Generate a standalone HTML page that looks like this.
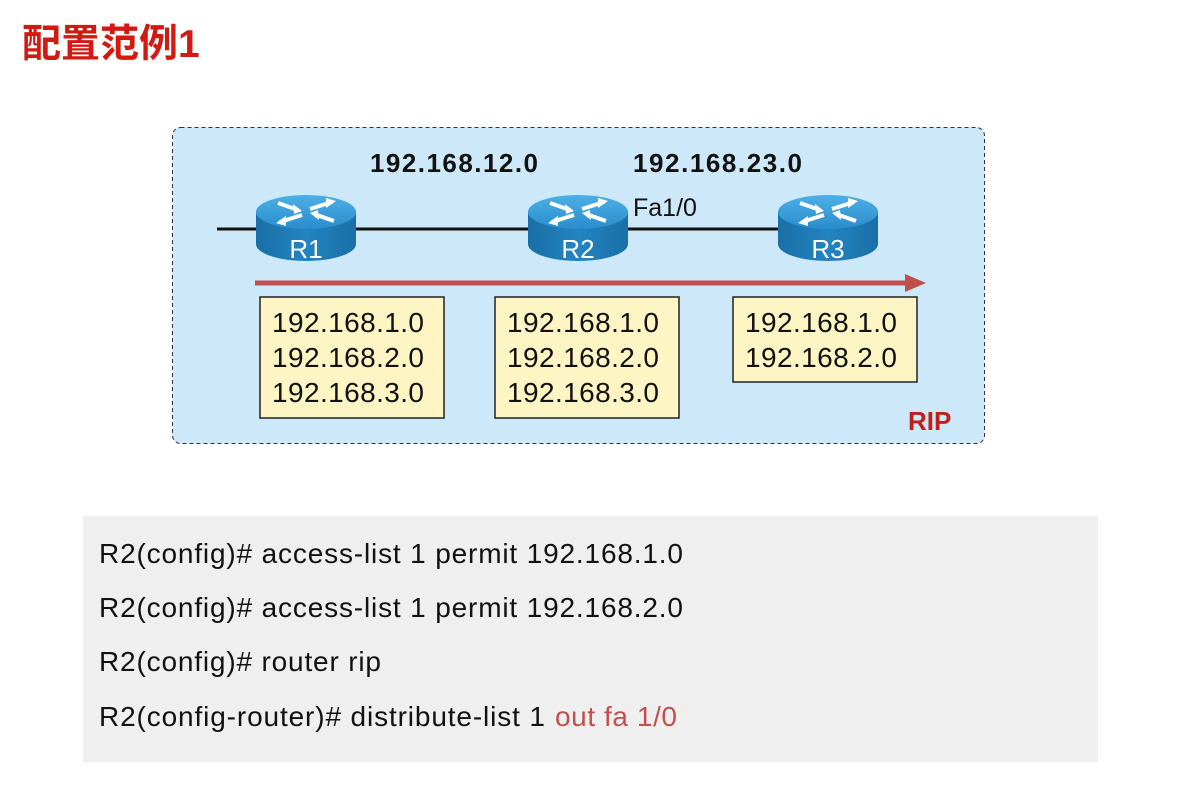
<!DOCTYPE html>
<html><head><meta charset="utf-8"><style>
html,body{margin:0;padding:0;background:#fff;width:1179px;height:794px;overflow:hidden}
svg text{font-family:"Liberation Sans",Arial,sans-serif}
</style></head><body>
<svg width="1179" height="794" viewBox="0 0 1179 794" xmlns="http://www.w3.org/2000/svg">
<defs>
<linearGradient id="top" x1="0" y1="0" x2="0" y2="1"><stop offset="0" stop-color="#4db0e6"/><stop offset="1" stop-color="#2a8ccc"/></linearGradient>
<linearGradient id="side" x1="0" y1="0" x2="1" y2="0"><stop offset="0" stop-color="#1a6fa6"/><stop offset="0.5" stop-color="#2384c2"/><stop offset="1" stop-color="#1a6fa6"/></linearGradient>
<g id="rt">
<path d="M-50,0 L-50,32 A50,17 0 0 0 50,32 L50,0 Z" fill="url(#side)"/>
<ellipse cx="0" cy="0" rx="50" ry="17" fill="url(#top)"/>
<g stroke="#fff" stroke-width="4" fill="#fff">
<line x1="-28" y1="-9" x2="-8" y2="-2"/><polygon points="-4,-1 -13,-8 -12,2" stroke="none"/>
<line x1="28" y1="9" x2="8" y2="2"/><polygon points="4,1 13,8 12,-2" stroke="none"/>
<line x1="-4" y1="3" x2="-26" y2="10"/><polygon points="-30,11 -20,4 -20,14" stroke="none"/>
<line x1="4" y1="-3" x2="26" y2="-10"/><polygon points="30,-11 20,-4 20,-14" stroke="none"/>
</g>
</g>
</defs>
<text x="22" y="57" font-size="39" font-weight="bold" fill="#d21a12" style="font-family:'Liberation Sans','Noto Sans CJK SC',sans-serif">配置范例1</text>
<rect x="172.5" y="127.5" width="812" height="316" rx="8" fill="#cde8f8" stroke="#333" stroke-dasharray="4,3"/>
<text x="370" y="172" font-size="26" font-weight="bold" fill="#111" textLength="168">192.168.12.0</text>
<text x="633" y="172" font-size="26" font-weight="bold" fill="#111" textLength="169">192.168.23.0</text>
<text x="633" y="216" font-size="25" fill="#111">Fa1/0</text>
<line x1="217" y1="229" x2="790" y2="229" stroke="#111" stroke-width="3"/>
<use href="#rt" x="306" y="212"/>
<use href="#rt" x="578" y="212"/>
<use href="#rt" x="828" y="212"/>
<text x="306" y="258" font-size="26" fill="#fff" text-anchor="middle">R1</text>
<text x="578" y="258" font-size="26" fill="#fff" text-anchor="middle">R2</text>
<text x="828" y="258" font-size="26" fill="#fff" text-anchor="middle">R3</text>
<line x1="255" y1="283" x2="910" y2="283" stroke="#c0504d" stroke-width="5"/>
<polygon points="926,283 905,274 905,292" fill="#c0504d"/>
<g fill="#fdf5c3" stroke="#222" stroke-width="1.5">
<rect x="260" y="297" width="184" height="121"/>
<rect x="495" y="297" width="184" height="121"/>
<rect x="733" y="297" width="184" height="85"/>
</g>
<g font-size="28" fill="#111">
<text x="272" y="332" textLength="152">192.168.1.0</text>
<text x="272" y="367" textLength="152">192.168.2.0</text>
<text x="272" y="402" textLength="152">192.168.3.0</text>
<text x="507" y="332" textLength="152">192.168.1.0</text>
<text x="507" y="367" textLength="152">192.168.2.0</text>
<text x="507" y="402" textLength="152">192.168.3.0</text>
<text x="745" y="332" textLength="152">192.168.1.0</text>
<text x="745" y="367" textLength="152">192.168.2.0</text>
</g>
<text x="908" y="430" font-size="26" font-weight="bold" fill="#c0201a">RIP</text>
<rect x="83" y="516" width="1015" height="246" fill="#efefef"/>
<g font-size="28" fill="#111">
<text x="99" y="563" textLength="584">R2(config)# access-list 1 permit 192.168.1.0</text>
<text x="99" y="617" textLength="584">R2(config)# access-list 1 permit 192.168.2.0</text>
<text x="99" y="671" textLength="282">R2(config)# router rip</text>
<text x="99" y="726" textLength="446">R2(config-router)# distribute-list 1</text>
<text x="555" y="726" fill="#c0504d" textLength="122">out fa 1/0</text>
</g>
</svg>
</body></html>
